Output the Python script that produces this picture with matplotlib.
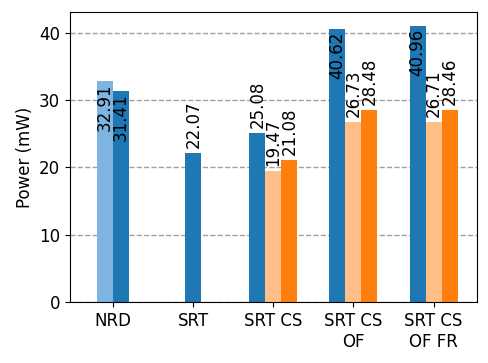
import numpy as np
import matplotlib
matplotlib.use("Agg")
import matplotlib.pyplot as plt

# ── data ─────────────────────────────────────────────────────────────
categories = ["NRD", "SRT", "SRT CS", "SRT CS\nOF", "SRT CS\nOF FR"]

# light blue bar (only NRD)
nrd_idx = [0]
nrd_vals = [32.91]

# dark blue bars
blue_idx = [0, 1, 2, 3, 4]
blue_vals = [31.41, 22.07, 25.08, 40.62, 40.96]
blue_off = [0.1, 0.0, -0.2, -0.2, -0.2]

# light orange bars
lorange_idx = [2, 3, 4]
lorange_vals = [19.47, 26.73, 26.71]

# orange bars
orange_idx = [2, 3, 4]
orange_vals = [21.08, 28.48, 28.46]

w = 0.2
fig, ax = plt.subplots(figsize=(4.89, 3.63), dpi=100)
fig.subplots_adjust(left=0.143, right=0.975, top=0.967, bottom=0.168)

x_nrd = np.array(nrd_idx) - 0.1
x_blue = np.array(blue_idx) + np.array(blue_off)
x_lor = np.array(lorange_idx) + 0.0
x_or = np.array(orange_idx) + 0.2

ax.bar(x_nrd, nrd_vals, w, color="#7fb3e0", zorder=2)
ax.bar(x_blue, blue_vals, w, color="#1f77b4", zorder=2)
ax.bar(x_lor, lorange_vals, w, color="#ffbf86", zorder=2)
ax.bar(x_or, orange_vals, w, color="#ff7f0e", zorder=2)


def label(xs, vals):
    for x, v in zip(xs, vals):
        if v > 30:
            ax.text(x, v - 0.4, f"{v:.2f}", rotation=90, ha="center", va="top",
                    fontsize=12, zorder=3)
        else:
            ax.text(x, v + 0.8, f"{v:.2f}", rotation=90, ha="center", va="bottom",
                    fontsize=12, zorder=3)


label(x_nrd, nrd_vals)
label(x_blue, blue_vals)
label(x_lor, lorange_vals)
label(x_or, orange_vals)

ax.set_xticks(range(len(categories)))
ax.set_xticklabels(categories, fontsize=12)
ax.tick_params(axis="y", labelsize=12)
ax.set_xlim(-0.54, 4.54)
ax.set_ylim(0, 43.1)
ax.set_yticks([0, 10, 20, 30, 40])
ax.set_ylabel("Power (mW)", fontsize=12)
ax.yaxis.grid(True, linestyle="--", color="#a0a0a0", linewidth=1)
ax.set_axisbelow(True)

plt.savefig("out.png", dpi=100)
